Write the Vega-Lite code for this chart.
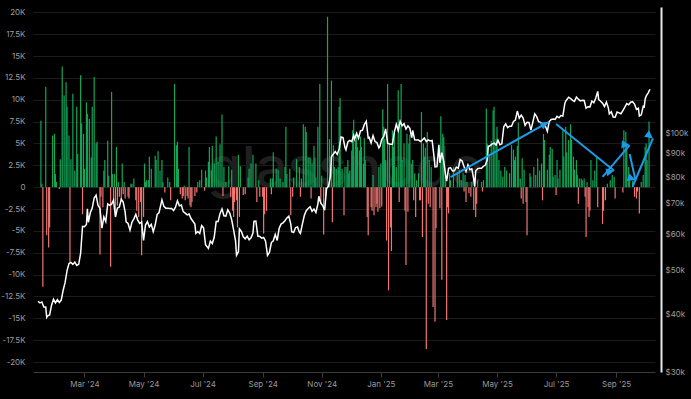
{
"$schema": "https://vega.github.io/schema/vega-lite/v6.json",
"width": 622, "height": 365,
"autosize": {"type": "none"},
"padding": {"left": 33, "top": 7, "right": 36, "bottom": 27},
"background": "#000000",
"config": {"view": {"stroke": null}, "font": "Inter", "axis": {"labelFont": "Inter", "labelFontSize": 8, "labelColor": "#9e9e9e"}},
"datasets": {
"wm": [{"d": "2024-11-25", "v": 0, "t": "glassnode"}],
"arrows": [
{"id": "a1", "d0": "2025-03-14", "v0": 1150, "d1": "2025-06-23", "v1": 7450},
{"id": "a2", "d0": "2025-07-01", "v0": 7220, "d1": "2025-08-30", "v1": 1880},
{"id": "a3", "d0": "2025-08-18", "v0": 1190, "d1": "2025-09-15", "v1": 4820},
{"id": "a4", "d0": "2025-09-15", "v0": 3790, "d1": "2025-09-21", "v1": 810},
{"id": "a5", "d0": "2025-09-18", "v0": 50, "d1": "2025-10-09", "v1": 5580}
],
"flows": [
{"d":"2024-01-16","v":7600},{"d":"2024-01-17","v":400},{"d":"2024-01-18","v":-11400},{"d":"2024-01-21","v":11500},{"d":"2024-01-22","v":-5500},{"d":"2024-01-24","v":-6900},{"d":"2024-01-25","v":-4600},{"d":"2024-01-28","v":5900},{"d":"2024-01-30","v":6100},{"d":"2024-01-31","v":1500},
{"d":"2024-02-01","v":600},{"d":"2024-02-04","v":-200},{"d":"2024-02-05","v":3200},{"d":"2024-02-07","v":13800},{"d":"2024-02-09","v":10500},{"d":"2024-02-11","v":12000},{"d":"2024-02-12","v":9200},{"d":"2024-02-14","v":5900},{"d":"2024-02-15","v":-8600},{"d":"2024-02-16","v":3200},{"d":"2024-02-18","v":10700},{"d":"2024-02-20","v":1900},{"d":"2024-02-22","v":9200},{"d":"2024-02-23","v":3800},{"d":"2024-02-26","v":12800},{"d":"2024-02-27","v":7300},{"d":"2024-02-28","v":-3100},{"d":"2024-02-29","v":6100},
{"d":"2024-03-01","v":2100},{"d":"2024-03-03","v":9700},{"d":"2024-03-04","v":8400},{"d":"2024-03-06","v":7800},{"d":"2024-03-08","v":3400},{"d":"2024-03-09","v":9200},{"d":"2024-03-11","v":12600},{"d":"2024-03-13","v":5000},{"d":"2024-03-14","v":5200},{"d":"2024-03-17","v":-7700},{"d":"2024-03-18","v":-1100},{"d":"2024-03-20","v":-2300},{"d":"2024-03-21","v":1900},{"d":"2024-03-22","v":3100},{"d":"2024-03-25","v":5300},{"d":"2024-03-26","v":1300},{"d":"2024-03-28","v":-9100},{"d":"2024-03-29","v":10900},{"d":"2024-03-30","v":1500},{"d":"2024-03-31","v":-1500},
{"d":"2024-04-01","v":1500},{"d":"2024-04-02","v":-3400},{"d":"2024-04-03","v":4600},{"d":"2024-04-04","v":-2100},{"d":"2024-04-05","v":600},{"d":"2024-04-06","v":-1100},{"d":"2024-04-08","v":-1500},{"d":"2024-04-09","v":2700},{"d":"2024-04-10","v":-800},{"d":"2024-04-11","v":600},{"d":"2024-04-12","v":-1300},{"d":"2024-04-15","v":-1100},{"d":"2024-04-16","v":-1300},{"d":"2024-04-18","v":400},{"d":"2024-04-19","v":400},{"d":"2024-04-21","v":1000},{"d":"2024-04-23","v":-1500},{"d":"2024-04-24","v":-2700},{"d":"2024-04-26","v":-3400},{"d":"2024-04-28","v":-1700},{"d":"2024-04-29","v":-7800},
{"d":"2024-05-01","v":-3400},{"d":"2024-05-02","v":2700},{"d":"2024-05-03","v":600},{"d":"2024-05-04","v":800},{"d":"2024-05-06","v":800},{"d":"2024-05-07","v":3500},{"d":"2024-05-09","v":2100},{"d":"2024-05-13","v":3600},{"d":"2024-05-14","v":3100},{"d":"2024-05-16","v":4100},{"d":"2024-05-18","v":1900},{"d":"2024-05-20","v":3100},{"d":"2024-05-21","v":600},{"d":"2024-05-23","v":-600},{"d":"2024-05-26","v":1100},{"d":"2024-05-28","v":600},{"d":"2024-05-29","v":-1500},
{"d":"2024-06-02","v":11800},{"d":"2024-06-04","v":4800},{"d":"2024-06-05","v":5200},{"d":"2024-06-06","v":2100},{"d":"2024-06-08","v":-800},{"d":"2024-06-10","v":-1300},{"d":"2024-06-11","v":-1000},{"d":"2024-06-12","v":200},{"d":"2024-06-13","v":-1500},{"d":"2024-06-15","v":-1000},{"d":"2024-06-16","v":-1300},{"d":"2024-06-17","v":4600},{"d":"2024-06-18","v":-2100},{"d":"2024-06-19","v":-2300},{"d":"2024-06-20","v":-1700},{"d":"2024-06-23","v":-1000},{"d":"2024-06-25","v":-600},{"d":"2024-06-26","v":600},{"d":"2024-06-28","v":800},{"d":"2024-06-30","v":2000},
{"d":"2024-07-03","v":-400},{"d":"2024-07-04","v":1900},{"d":"2024-07-05","v":1100},{"d":"2024-07-07","v":2900},{"d":"2024-07-08","v":4600},{"d":"2024-07-10","v":1900},{"d":"2024-07-11","v":4700},{"d":"2024-07-13","v":2700},{"d":"2024-07-15","v":5800},{"d":"2024-07-17","v":2900},{"d":"2024-07-19","v":4900},{"d":"2024-07-21","v":8300},{"d":"2024-07-22","v":-1000},{"d":"2024-07-23","v":2300},{"d":"2024-07-25","v":600},{"d":"2024-07-28","v":2400},{"d":"2024-07-30","v":-1100},{"d":"2024-07-31","v":2000},
{"d":"2024-08-01","v":-2700},{"d":"2024-08-02","v":-3400},{"d":"2024-08-03","v":-1700},{"d":"2024-08-05","v":-1500},{"d":"2024-08-06","v":-4600},{"d":"2024-08-07","v":3700},{"d":"2024-08-08","v":-3400},{"d":"2024-08-09","v":2400},{"d":"2024-08-12","v":-900},{"d":"2024-08-14","v":-800},{"d":"2024-08-17","v":1100},{"d":"2024-08-18","v":2100},{"d":"2024-08-20","v":2700},{"d":"2024-08-22","v":3700},{"d":"2024-08-25","v":2700},{"d":"2024-08-26","v":-1700},{"d":"2024-08-28","v":800},{"d":"2024-08-29","v":-1100},
{"d":"2024-09-01","v":-1100},{"d":"2024-09-02","v":-5300},{"d":"2024-09-03","v":-3100},{"d":"2024-09-05","v":-2700},{"d":"2024-09-09","v":1000},{"d":"2024-09-10","v":-800},{"d":"2024-09-11","v":1000},{"d":"2024-09-12","v":4000},{"d":"2024-09-15","v":2100},{"d":"2024-09-17","v":2000},{"d":"2024-09-19","v":1000},{"d":"2024-09-22","v":600},{"d":"2024-09-24","v":2300},{"d":"2024-09-25","v":6900},{"d":"2024-09-26","v":1500},{"d":"2024-09-29","v":2100},{"d":"2024-09-30","v":-3200},
{"d":"2024-10-02","v":-1100},{"d":"2024-10-03","v":1100},{"d":"2024-10-06","v":3200},{"d":"2024-10-09","v":2300},{"d":"2024-10-10","v":-1100},{"d":"2024-10-11","v":1000},{"d":"2024-10-13","v":7200},{"d":"2024-10-15","v":6900},{"d":"2024-10-16","v":6300},{"d":"2024-10-18","v":3400},{"d":"2024-10-20","v":3400},{"d":"2024-10-21","v":-1300},{"d":"2024-10-22","v":2700},{"d":"2024-10-24","v":4700},{"d":"2024-10-25","v":3400},{"d":"2024-10-26","v":1100},{"d":"2024-10-28","v":6900},{"d":"2024-10-30","v":11800},{"d":"2024-10-31","v":-1900},
{"d":"2024-11-01","v":1300},{"d":"2024-11-03","v":-5400},{"d":"2024-11-05","v":-1000},{"d":"2024-11-07","v":19500},{"d":"2024-11-09","v":5500},{"d":"2024-11-11","v":12200},{"d":"2024-11-12","v":-4000},{"d":"2024-11-13","v":4800},{"d":"2024-11-14","v":2300},{"d":"2024-11-16","v":2100},{"d":"2024-11-18","v":2300},{"d":"2024-11-19","v":9200},{"d":"2024-11-20","v":10200},{"d":"2024-11-22","v":2100},{"d":"2024-11-24","v":-3200},{"d":"2024-11-25","v":2300},{"d":"2024-11-27","v":2300},{"d":"2024-11-28","v":3100},{"d":"2024-11-29","v":1600},{"d":"2024-11-30","v":1900},
{"d":"2024-12-02","v":4200},{"d":"2024-12-03","v":6500},{"d":"2024-12-04","v":7700},{"d":"2024-12-06","v":5400},{"d":"2024-12-07","v":6300},{"d":"2024-12-08","v":4600},{"d":"2024-12-10","v":4200},{"d":"2024-12-11","v":5800},{"d":"2024-12-12","v":4600},{"d":"2024-12-14","v":2700},{"d":"2024-12-15","v":5600},{"d":"2024-12-16","v":3100},{"d":"2024-12-18","v":-3400},{"d":"2024-12-19","v":-5500},{"d":"2024-12-22","v":-2300},{"d":"2024-12-23","v":-2700},{"d":"2024-12-24","v":1400},{"d":"2024-12-25","v":-3200},{"d":"2024-12-27","v":-2300},{"d":"2024-12-28","v":-1900},{"d":"2024-12-29","v":-2800},{"d":"2024-12-30","v":2300},{"d":"2024-12-31","v":-2400},
{"d":"2025-01-01","v":2700},{"d":"2025-01-02","v":-2200},{"d":"2025-01-03","v":8900},{"d":"2025-01-04","v":6900},{"d":"2025-01-05","v":5500},{"d":"2025-01-06","v":3100},{"d":"2025-01-07","v":-6100},{"d":"2025-01-08","v":11800},{"d":"2025-01-09","v":-11800},{"d":"2025-01-10","v":5000},{"d":"2025-01-11","v":-4600},{"d":"2025-01-12","v":-7300},{"d":"2025-01-13","v":6500},{"d":"2025-01-14","v":4600},{"d":"2025-01-15","v":6100},{"d":"2025-01-17","v":2300},{"d":"2025-01-19","v":11100},{"d":"2025-01-20","v":-1700},{"d":"2025-01-21","v":6900},{"d":"2025-01-22","v":11800},{"d":"2025-01-23","v":3100},{"d":"2025-01-25","v":5000},{"d":"2025-01-26","v":-2700},{"d":"2025-01-27","v":-8900},{"d":"2025-01-28","v":6100},{"d":"2025-01-29","v":-2800},{"d":"2025-01-30","v":5000},{"d":"2025-01-31","v":6000},
{"d":"2025-02-02","v":2700},{"d":"2025-02-03","v":3100},{"d":"2025-02-04","v":-1500},{"d":"2025-02-05","v":1600},{"d":"2025-02-06","v":-3400},{"d":"2025-02-07","v":800},{"d":"2025-02-09","v":1600},{"d":"2025-02-10","v":-1500},{"d":"2025-02-11","v":-1500},{"d":"2025-02-12","v":8600},{"d":"2025-02-13","v":-5700},{"d":"2025-02-14","v":5000},{"d":"2025-02-15","v":3500},{"d":"2025-02-16","v":4500},{"d":"2025-02-17","v":-18500},{"d":"2025-02-18","v":6300},{"d":"2025-02-19","v":-1900},{"d":"2025-02-20","v":3100},{"d":"2025-02-21","v":-2300},{"d":"2025-02-22","v":2300},{"d":"2025-02-24","v":-13700},{"d":"2025-02-26","v":-15400},{"d":"2025-02-27","v":-4700},
{"d":"2025-03-03","v":-2400},{"d":"2025-03-04","v":8100},{"d":"2025-03-05","v":-10600},{"d":"2025-03-06","v":6100},{"d":"2025-03-07","v":5700},{"d":"2025-03-09","v":1200},{"d":"2025-03-10","v":-15200},{"d":"2025-03-11","v":-2300},{"d":"2025-03-12","v":-3000},{"d":"2025-03-13","v":1600},{"d":"2025-03-14","v":800},{"d":"2025-03-17","v":2300},{"d":"2025-03-21","v":1600},{"d":"2025-03-23","v":2000},{"d":"2025-03-25","v":800},{"d":"2025-03-27","v":1600},{"d":"2025-03-28","v":-500},{"d":"2025-03-29","v":1400},{"d":"2025-03-30","v":-1700},{"d":"2025-03-31","v":600},
{"d":"2025-04-02","v":-700},{"d":"2025-04-04","v":-1100},{"d":"2025-04-05","v":600},{"d":"2025-04-07","v":-2600},{"d":"2025-04-09","v":-3400},{"d":"2025-04-10","v":-1900},{"d":"2025-04-11","v":800},{"d":"2025-04-15","v":600},{"d":"2025-04-16","v":-500},{"d":"2025-04-17","v":800},{"d":"2025-04-20","v":9000},{"d":"2025-04-21","v":5000},{"d":"2025-04-23","v":3800},{"d":"2025-04-25","v":5300},{"d":"2025-04-27","v":8800},{"d":"2025-04-28","v":9200},{"d":"2025-04-30","v":5500},
{"d":"2025-05-01","v":6900},{"d":"2025-05-03","v":3100},{"d":"2025-05-05","v":1900},{"d":"2025-05-07","v":1200},{"d":"2025-05-09","v":2300},{"d":"2025-05-11","v":1900},{"d":"2025-05-14","v":1600},{"d":"2025-05-16","v":4800},{"d":"2025-05-18","v":4300},{"d":"2025-05-19","v":3100},{"d":"2025-05-20","v":3500},{"d":"2025-05-22","v":4700},{"d":"2025-05-23","v":7400},{"d":"2025-05-25","v":1000},{"d":"2025-05-26","v":-1300},{"d":"2025-05-27","v":3300},{"d":"2025-05-28","v":-1900},{"d":"2025-05-29","v":2000},{"d":"2025-05-31","v":-1700},
{"d":"2025-06-01","v":-5500},{"d":"2025-06-04","v":1600},{"d":"2025-06-05","v":1200},{"d":"2025-06-08","v":2300},{"d":"2025-06-10","v":1400},{"d":"2025-06-12","v":3300},{"d":"2025-06-14","v":1900},{"d":"2025-06-16","v":2700},{"d":"2025-06-17","v":-1500},{"d":"2025-06-18","v":6100},{"d":"2025-06-19","v":5400},{"d":"2025-06-22","v":2000},{"d":"2025-06-24","v":3700},{"d":"2025-06-25","v":4600},{"d":"2025-06-27","v":4400},{"d":"2025-06-28","v":1200},{"d":"2025-06-30","v":1400},
{"d":"2025-07-01","v":-900},{"d":"2025-07-02","v":3100},{"d":"2025-07-03","v":1000},{"d":"2025-07-05","v":2000},{"d":"2025-07-08","v":6500},{"d":"2025-07-09","v":3500},{"d":"2025-07-11","v":6900},{"d":"2025-07-12","v":4000},{"d":"2025-07-14","v":5400},{"d":"2025-07-16","v":7200},{"d":"2025-07-17","v":5400},{"d":"2025-07-19","v":3500},{"d":"2025-07-20","v":2000},{"d":"2025-07-22","v":3100},{"d":"2025-07-23","v":1400},{"d":"2025-07-24","v":-1900},{"d":"2025-07-25","v":1000},{"d":"2025-07-27","v":1000},{"d":"2025-07-28","v":800},{"d":"2025-07-30","v":1000},{"d":"2025-07-31","v":-1100},
{"d":"2025-08-01","v":-5700},{"d":"2025-08-02","v":600},{"d":"2025-08-03","v":-2300},{"d":"2025-08-04","v":-3400},{"d":"2025-08-05","v":-2700},{"d":"2025-08-06","v":3100},{"d":"2025-08-08","v":800},{"d":"2025-08-10","v":1900},{"d":"2025-08-12","v":3500},{"d":"2025-08-13","v":-2300},{"d":"2025-08-18","v":-4200},{"d":"2025-08-19","v":-2700},{"d":"2025-08-21","v":-1500},{"d":"2025-08-23","v":400},{"d":"2025-08-26","v":800},{"d":"2025-08-28","v":1400},{"d":"2025-08-30","v":1200},{"d":"2025-08-31","v":-1300},
{"d":"2025-09-08","v":-600},{"d":"2025-09-09","v":6500},{"d":"2025-09-11","v":6300},{"d":"2025-09-12","v":4800},{"d":"2025-09-14","v":2300},{"d":"2025-09-15","v":800},{"d":"2025-09-18","v":700},{"d":"2025-09-20","v":-1100},{"d":"2025-09-22","v":-1300},{"d":"2025-09-23","v":-500},{"d":"2025-09-25","v":-3000},{"d":"2025-09-27","v":600},{"d":"2025-09-29","v":1400},
{"d":"2025-10-01","v":4600},{"d":"2025-10-02","v":5000},{"d":"2025-10-03","v":3100},{"d":"2025-10-05","v":7500}
],
"price": [
{"d":"2024-01-13","p":42800},{"d":"2024-01-15","p":42500},{"d":"2024-01-17","p":42700},{"d":"2024-01-19","p":41600},{"d":"2024-01-21","p":41600},{"d":"2024-01-22","p":39500},{"d":"2024-01-23","p":39800},{"d":"2024-01-25","p":40000},{"d":"2024-01-27","p":42000},{"d":"2024-01-29","p":43300},{"d":"2024-01-31","p":42500},
{"d":"2024-02-02","p":43200},{"d":"2024-02-04","p":42600},{"d":"2024-02-06","p":43100},{"d":"2024-02-08","p":45300},{"d":"2024-02-10","p":47100},{"d":"2024-02-12","p":50000},{"d":"2024-02-14","p":51800},{"d":"2024-02-16","p":52100},{"d":"2024-02-18","p":51600},{"d":"2024-02-20","p":52200},{"d":"2024-02-22","p":51300},{"d":"2024-02-24","p":51600},{"d":"2024-02-26","p":54500},{"d":"2024-02-28","p":62500},
{"d":"2024-03-01","p":62400},{"d":"2024-03-03","p":63100},{"d":"2024-03-04","p":68300},{"d":"2024-03-05","p":63800},{"d":"2024-03-07","p":66900},{"d":"2024-03-09","p":68500},{"d":"2024-03-11","p":72100},{"d":"2024-03-13","p":73100},{"d":"2024-03-15","p":69400},{"d":"2024-03-17","p":68400},{"d":"2024-03-19","p":61900},{"d":"2024-03-21","p":65500},{"d":"2024-03-23","p":64000},{"d":"2024-03-25","p":70000},{"d":"2024-03-27","p":69500},{"d":"2024-03-29","p":69900},{"d":"2024-03-31","p":71300},
{"d":"2024-04-02","p":65500},{"d":"2024-04-04","p":68500},{"d":"2024-04-06","p":68900},{"d":"2024-04-08","p":71600},{"d":"2024-04-10","p":70600},{"d":"2024-04-12","p":67100},{"d":"2024-04-13","p":63900},{"d":"2024-04-15","p":63400},{"d":"2024-04-17","p":61300},{"d":"2024-04-19","p":63800},{"d":"2024-04-21","p":64900},{"d":"2024-04-23","p":66400},{"d":"2024-04-25","p":64500},{"d":"2024-04-27","p":63400},{"d":"2024-04-29","p":63900},
{"d":"2024-05-01","p":58200},{"d":"2024-05-03","p":62900},{"d":"2024-05-05","p":64000},{"d":"2024-05-07","p":62300},{"d":"2024-05-09","p":63100},{"d":"2024-05-11","p":60800},{"d":"2024-05-13","p":62900},{"d":"2024-05-15","p":66300},{"d":"2024-05-17","p":67000},{"d":"2024-05-20","p":71400},{"d":"2024-05-22","p":69100},{"d":"2024-05-24","p":68500},{"d":"2024-05-26","p":68500},{"d":"2024-05-28","p":68400},{"d":"2024-05-30","p":68400},
{"d":"2024-06-01","p":67700},{"d":"2024-06-03","p":68800},{"d":"2024-06-05","p":71100},{"d":"2024-06-07","p":69300},{"d":"2024-06-09","p":69600},{"d":"2024-06-11","p":67300},{"d":"2024-06-13","p":66800},{"d":"2024-06-15","p":66200},{"d":"2024-06-17","p":66500},{"d":"2024-06-19","p":65000},{"d":"2024-06-21","p":64100},{"d":"2024-06-23","p":63200},{"d":"2024-06-24","p":60300},{"d":"2024-06-26","p":60900},{"d":"2024-06-28","p":60300},{"d":"2024-06-30","p":62700},
{"d":"2024-07-02","p":62000},{"d":"2024-07-04","p":57000},{"d":"2024-07-05","p":56600},{"d":"2024-07-07","p":55900},{"d":"2024-07-09","p":58000},{"d":"2024-07-11","p":57300},{"d":"2024-07-13","p":59200},{"d":"2024-07-15","p":64000},{"d":"2024-07-17","p":64000},{"d":"2024-07-19","p":66700},{"d":"2024-07-21","p":68200},{"d":"2024-07-23","p":65900},{"d":"2024-07-25","p":65800},{"d":"2024-07-27","p":67900},{"d":"2024-07-29","p":66800},{"d":"2024-07-31","p":64600},
{"d":"2024-08-02","p":61400},{"d":"2024-08-04","p":58100},{"d":"2024-08-05","p":54000},{"d":"2024-08-07","p":55000},{"d":"2024-08-08","p":61700},{"d":"2024-08-10","p":60900},{"d":"2024-08-12","p":59300},{"d":"2024-08-14","p":58700},{"d":"2024-08-16","p":59500},{"d":"2024-08-18","p":58400},{"d":"2024-08-20","p":59000},{"d":"2024-08-22","p":60400},{"d":"2024-08-23","p":64100},{"d":"2024-08-25","p":64200},{"d":"2024-08-27","p":59500},{"d":"2024-08-29","p":59400},{"d":"2024-08-31","p":58900},
{"d":"2024-09-02","p":59100},{"d":"2024-09-04","p":58000},{"d":"2024-09-06","p":54000},{"d":"2024-09-08","p":54800},{"d":"2024-09-10","p":57600},{"d":"2024-09-12","p":58100},{"d":"2024-09-14","p":60000},{"d":"2024-09-16","p":58200},{"d":"2024-09-18","p":61800},{"d":"2024-09-20","p":63200},{"d":"2024-09-22","p":63600},{"d":"2024-09-24","p":64300},{"d":"2024-09-26","p":65200},{"d":"2024-09-28","p":65800},{"d":"2024-09-30","p":63300},
{"d":"2024-10-01","p":60800},{"d":"2024-10-03","p":60600},{"d":"2024-10-05","p":62100},{"d":"2024-10-07","p":62300},{"d":"2024-10-09","p":60600},{"d":"2024-10-10","p":60300},{"d":"2024-10-12","p":63200},{"d":"2024-10-14","p":66000},{"d":"2024-10-16","p":67600},{"d":"2024-10-18","p":68400},{"d":"2024-10-20","p":69000},{"d":"2024-10-22","p":67400},{"d":"2024-10-24","p":68200},{"d":"2024-10-26","p":67000},{"d":"2024-10-28","p":69900},{"d":"2024-10-29","p":72700},{"d":"2024-10-31","p":70200},
{"d":"2024-11-02","p":69400},{"d":"2024-11-04","p":67800},{"d":"2024-11-06","p":75600},{"d":"2024-11-08","p":76500},{"d":"2024-11-10","p":80400},{"d":"2024-11-11","p":88700},{"d":"2024-11-13","p":90000},{"d":"2024-11-15","p":91100},{"d":"2024-11-17","p":89800},{"d":"2024-11-19","p":92300},{"d":"2024-11-21","p":98000},{"d":"2024-11-23","p":97700},{"d":"2024-11-25","p":93000},{"d":"2024-11-26","p":91900},{"d":"2024-11-28","p":95600},{"d":"2024-11-30","p":96400},
{"d":"2024-12-02","p":95800},{"d":"2024-12-04","p":98800},{"d":"2024-12-05","p":97000},{"d":"2024-12-07","p":99900},{"d":"2024-12-09","p":97400},{"d":"2024-12-11","p":101100},{"d":"2024-12-13","p":101400},{"d":"2024-12-15","p":104300},{"d":"2024-12-17","p":106100},{"d":"2024-12-19","p":97500},{"d":"2024-12-20","p":97800},{"d":"2024-12-22","p":95100},{"d":"2024-12-24","p":98700},{"d":"2024-12-26","p":95800},{"d":"2024-12-28","p":95300},{"d":"2024-12-30","p":92800},{"d":"2024-12-31","p":93400},
{"d":"2025-01-02","p":96900},{"d":"2025-01-04","p":98200},{"d":"2025-01-06","p":102100},{"d":"2025-01-08","p":95000},{"d":"2025-01-10","p":94600},{"d":"2025-01-12","p":94500},{"d":"2025-01-13","p":94500},{"d":"2025-01-15","p":100500},{"d":"2025-01-17","p":104500},{"d":"2025-01-19","p":101300},{"d":"2025-01-21","p":106100},{"d":"2025-01-23","p":103700},{"d":"2025-01-25","p":104800},{"d":"2025-01-27","p":102000},{"d":"2025-01-29","p":103700},{"d":"2025-01-31","p":102400},
{"d":"2025-02-02","p":97700},{"d":"2025-02-03","p":101400},{"d":"2025-02-05","p":96600},{"d":"2025-02-07","p":96500},{"d":"2025-02-09","p":96500},{"d":"2025-02-11","p":95800},{"d":"2025-02-13","p":96600},{"d":"2025-02-15","p":97500},{"d":"2025-02-17","p":95800},{"d":"2025-02-19","p":96600},{"d":"2025-02-21","p":96100},{"d":"2025-02-23","p":96300},{"d":"2025-02-25","p":88700},{"d":"2025-02-26","p":84300},{"d":"2025-02-28","p":84400},
{"d":"2025-03-02","p":94200},{"d":"2025-03-03","p":86100},{"d":"2025-03-05","p":90600},{"d":"2025-03-07","p":86700},{"d":"2025-03-09","p":80700},{"d":"2025-03-10","p":78500},{"d":"2025-03-12","p":83700},{"d":"2025-03-14","p":84000},{"d":"2025-03-16","p":82600},{"d":"2025-03-18","p":82700},{"d":"2025-03-20","p":84200},{"d":"2025-03-22","p":83800},{"d":"2025-03-24","p":87500},{"d":"2025-03-26","p":86900},{"d":"2025-03-28","p":84400},{"d":"2025-03-30","p":82400},
{"d":"2025-04-01","p":85200},{"d":"2025-04-03","p":83100},{"d":"2025-04-05","p":83500},{"d":"2025-04-07","p":79200},{"d":"2025-04-08","p":76300},{"d":"2025-04-09","p":82600},{"d":"2025-04-11","p":83600},{"d":"2025-04-13","p":83700},{"d":"2025-04-15","p":83700},{"d":"2025-04-17","p":84600},{"d":"2025-04-19","p":85100},{"d":"2025-04-21","p":87500},{"d":"2025-04-22","p":93400},{"d":"2025-04-24","p":93900},{"d":"2025-04-26","p":94700},{"d":"2025-04-28","p":95000},{"d":"2025-04-30","p":94200},
{"d":"2025-05-02","p":96500},{"d":"2025-05-04","p":94300},{"d":"2025-05-06","p":94700},{"d":"2025-05-08","p":103200},{"d":"2025-05-10","p":104700},{"d":"2025-05-12","p":102800},{"d":"2025-05-14","p":103500},{"d":"2025-05-16","p":103500},{"d":"2025-05-18","p":106000},{"d":"2025-05-20","p":106800},{"d":"2025-05-22","p":111700},{"d":"2025-05-24","p":107800},{"d":"2025-05-26","p":109400},{"d":"2025-05-28","p":107800},{"d":"2025-05-30","p":103900},
{"d":"2025-06-01","p":105600},{"d":"2025-06-03","p":105500},{"d":"2025-06-05","p":101500},{"d":"2025-06-07","p":105600},{"d":"2025-06-09","p":110200},{"d":"2025-06-11","p":108600},{"d":"2025-06-13","p":105900},{"d":"2025-06-15","p":105500},{"d":"2025-06-17","p":104600},{"d":"2025-06-19","p":104800},{"d":"2025-06-21","p":102200},{"d":"2025-06-22","p":100900},{"d":"2025-06-24","p":106000},{"d":"2025-06-26","p":107100},{"d":"2025-06-28","p":107300},{"d":"2025-06-30","p":107100},
{"d":"2025-07-02","p":108800},{"d":"2025-07-04","p":108000},{"d":"2025-07-06","p":109200},{"d":"2025-07-08","p":108900},{"d":"2025-07-10","p":116000},{"d":"2025-07-11","p":117500},{"d":"2025-07-13","p":119000},{"d":"2025-07-14","p":119800},{"d":"2025-07-16","p":119000},{"d":"2025-07-18","p":117900},{"d":"2025-07-20","p":117300},{"d":"2025-07-22","p":119900},{"d":"2025-07-24","p":118600},{"d":"2025-07-26","p":117600},{"d":"2025-07-28","p":118000},{"d":"2025-07-30","p":117800},
{"d":"2025-08-01","p":113300},{"d":"2025-08-03","p":114200},{"d":"2025-08-05","p":114100},{"d":"2025-08-07","p":117500},{"d":"2025-08-09","p":116500},{"d":"2025-08-11","p":119300},{"d":"2025-08-13","p":123300},{"d":"2025-08-14","p":118300},{"d":"2025-08-16","p":117400},{"d":"2025-08-18","p":116200},{"d":"2025-08-20","p":114300},{"d":"2025-08-22","p":116900},{"d":"2025-08-24","p":113500},{"d":"2025-08-25","p":110100},{"d":"2025-08-27","p":111300},{"d":"2025-08-29","p":108400},{"d":"2025-08-31","p":108300},
{"d":"2025-09-02","p":111200},{"d":"2025-09-04","p":110700},{"d":"2025-09-06","p":110200},{"d":"2025-09-08","p":112000},{"d":"2025-09-10","p":113900},{"d":"2025-09-12","p":116000},{"d":"2025-09-14","p":115300},{"d":"2025-09-16","p":116800},{"d":"2025-09-18","p":117100},{"d":"2025-09-20","p":115700},{"d":"2025-09-22","p":112700},{"d":"2025-09-24","p":113300},{"d":"2025-09-25","p":109000},{"d":"2025-09-27","p":109600},{"d":"2025-09-29","p":114400},{"d":"2025-09-30","p":114000},
{"d":"2025-10-01","p":118600},{"d":"2025-10-02","p":120500},{"d":"2025-10-04","p":122300},{"d":"2025-10-05","p":123500},{"d":"2025-10-06","p":124700}
]
},
"layer": [
{
"data": {"name": "wm"},
"mark": {"type": "text", "fontSize": 56, "font": "Inter", "fontWeight": 500, "color": "#1f1f1f", "align": "center", "baseline": "alphabetic"},
"encoding": {
"x": {"field": "d", "type": "temporal", "scale": {"type": "utc", "domain": [{"year": 2024, "month": 1, "date": 13, "utc": true}, {"year": 2025, "month": 10, "date": 6, "utc": true}]},
"axis": {"orient": "bottom", "format": "%b '%y", "tickCount": {"interval": "month", "step": 2}, "domainColor": "#3a3a3a", "tickColor": "#3a3a3a", "tickSize": 5, "labelPadding": 3, "grid": false, "title": null, "labelColor": "#9a9a9a"}},
"y": {"field": "v", "type": "quantitative", "scale": {"domain": [-21140, 20610], "nice": false, "zero": false}, "axis": null},
"text": {"field": "t"}
}
},
{
"data": {"name": "flows"},
"mark": {"type": "bar", "size": 1.2},
"encoding": {
"x": {"field": "d", "type": "temporal", "scale": {"type": "utc", "domain": [{"year": 2024, "month": 1, "date": 13, "utc": true}, {"year": 2025, "month": 10, "date": 6, "utc": true}]},
"axis": {"orient": "bottom", "format": "%b '%y", "tickCount": {"interval": "month", "step": 2}, "domainColor": "#3a3a3a", "tickColor": "#3a3a3a", "tickSize": 5, "labelPadding": 3, "grid": false, "title": null, "labelColor": "#9a9a9a"}},
"y": {"field": "v", "type": "quantitative", "scale": {"domain": [-21140, 20610], "nice": false, "zero": false},
"axis": {"orient": "left", "values": [-20000, -17500, -15000, -12500, -10000, -7500, -5000, -2500, 0, 2500, 5000, 7500, 10000, 12500, 15000, 17500, 20000], "labelExpr": "datum.value == 0 ? '0' : (datum.value / 1000) + 'K'", "grid": true, "gridColor": "#1b1b1b", "gridWidth": 1, "domain": false, "ticks": false, "labelPadding": 8, "title": null}},
"color": {"condition": {"test": "datum.v < 0", "value": "#ef7772"}, "value": "#12a658"}
}
},
{
"mark": {"type": "rule", "color": "#8a8a8a", "strokeWidth": 1.5},
"encoding": {
"y": {"datum": 0, "type": "quantitative", "scale": {"domain": [-21140, 20610], "nice": false, "zero": false}, "axis": null}
}
},
{
"data": {"name": "price"},
"mark": {"type": "line", "color": "#ffffff", "strokeWidth": 1.5},
"encoding": {
"x": {"field": "d", "type": "temporal", "scale": {"type": "utc", "domain": [{"year": 2024, "month": 1, "date": 13, "utc": true}, {"year": 2025, "month": 10, "date": 6, "utc": true}]},
"axis": {"orient": "bottom", "format": "%b '%y", "tickCount": {"interval": "month", "step": 2}, "domainColor": "#3a3a3a", "tickColor": "#3a3a3a", "tickSize": 5, "labelPadding": 3, "grid": false, "title": null, "labelColor": "#9a9a9a"}},
"y": {"field": "p", "type": "quantitative", "scale": {"type": "log", "domain": [30000, 188700], "nice": false},
"axis": {"orient": "right", "values": [30000, 40000, 50000, 60000, 70000, 80000, 90000, 100000], "labelExpr": "'$' + (datum.value / 1000) + 'k'", "grid": false, "offset": 6, "domainColor": "#e8e8e8", "domainWidth": 2, "ticks": false, "labelPadding": 4, "title": null}}
}
},
{
"data": {"name": "arrows"},
"mark": {"type": "rule", "color": "#1c9be6", "strokeWidth": 2},
"encoding": {
"x": {"field": "d0", "type": "temporal", "scale": {"type": "utc", "domain": [{"year": 2024, "month": 1, "date": 13, "utc": true}, {"year": 2025, "month": 10, "date": 6, "utc": true}]},
"axis": {"orient": "bottom", "format": "%b '%y", "tickCount": {"interval": "month", "step": 2}, "domainColor": "#3a3a3a", "tickColor": "#3a3a3a", "tickSize": 5, "labelPadding": 3, "grid": false, "title": null, "labelColor": "#9a9a9a"}},
"x2": {"field": "d1"},
"y": {"field": "v0", "type": "quantitative", "scale": {"domain": [-21140, 20610], "nice": false, "zero": false}, "axis": null},
"y2": {"field": "v1"}
}
},
{
"data": {"name": "arrows"},
"mark": {"type": "point", "shape": "M0,0L0.5,1L-0.5,1Z", "filled": true, "opacity": 1, "color": "#1c9be6", "size": 256},
"encoding": {
"x": {"field": "d1", "type": "temporal", "scale": {"type": "utc", "domain": [{"year": 2024, "month": 1, "date": 13, "utc": true}, {"year": 2025, "month": 10, "date": 6, "utc": true}]},
"axis": {"orient": "bottom", "format": "%b '%y", "tickCount": {"interval": "month", "step": 2}, "domainColor": "#3a3a3a", "tickColor": "#3a3a3a", "tickSize": 5, "labelPadding": 3, "grid": false, "title": null, "labelColor": "#9a9a9a"}},
"y": {"field": "v1", "type": "quantitative", "scale": {"domain": [-21140, 20610], "nice": false, "zero": false}, "axis": null},
"angle": {"field": "id", "type": "nominal", "scale": {"domain": ["a1", "a2", "a3", "a4", "a5"], "range": [61, 128, 41, 166, 23]}, "legend": null}
}
}
],
"resolve": {"scale": {"y": "independent"}}
}
